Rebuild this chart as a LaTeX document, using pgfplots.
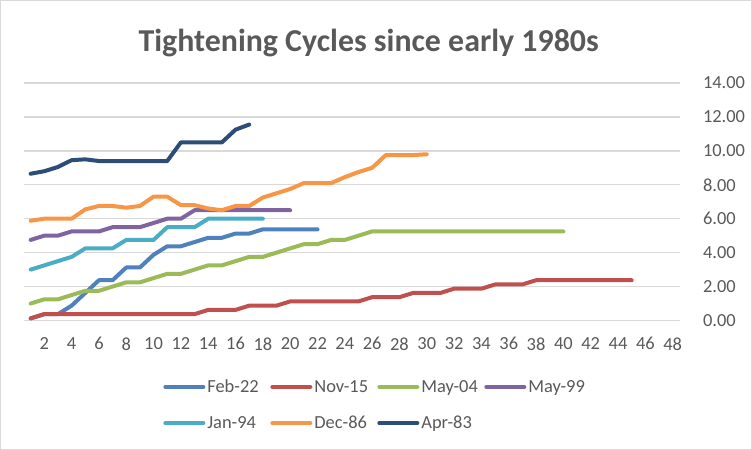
\documentclass[border=0pt]{standalone}
\usepackage{fontspec}
\setmainfont{Carlito}
\usepackage{pgfplots}
\pgfplotsset{compat=1.18}
\definecolor{cfeb}{HTML}{4F81BD}
\definecolor{cnov}{HTML}{C0504D}
\definecolor{cmayf}{HTML}{9BBB59}
\definecolor{cmayn}{HTML}{8064A2}
\definecolor{cjan}{HTML}{4BACC6}
\definecolor{cdec}{HTML}{F79646}
\definecolor{capr}{HTML}{2C4D75}
\definecolor{gridgray}{HTML}{D9D9D9}
\definecolor{txtgray}{HTML}{595959}
\begin{document}
\begin{tikzpicture}
\path[use as bounding box] (-23.8bp,-129.5bp) rectangle (728.2bp,320.5bp);
\draw[gridgray, line width=1bp] (-23.3bp,-129bp) rectangle (727.7bp,320bp);
\begin{axis}[
    at={(0,0)}, anchor=south west,
    scale only axis,
    width=655.7bp, height=237.5bp,
    xmin=0.5, xmax=48.5,
    ymin=0, ymax=14,
    xtick={2,4,...,48},
    ytick={0,2,...,14},
    axis line style={draw=none},
    major tick length=0pt,
    ymajorgrids,
    grid style={gridgray, line width=1.3bp},
    yticklabel pos=right,
    yticklabel style={anchor=west, xshift=20bp,
        /pgf/number format/.cd, fixed, fixed zerofill, precision=2},
    xticklabel style={yshift=-13.5bp},
    ticklabel style={font=\fontsize{18.5}{21}\selectfont, text=txtgray},
    /pgf/number format/assume math mode=true,
    title={Tightening Cycles since early 1980s},
    title style={at={(0.526,1.143)}, anchor=center,
        font=\fontsize{32}{36}\selectfont\bfseries, text=txtgray},
    clip=false,
    every axis plot/.append style={line width=4bp, line cap=round, line join=round},
    legend columns=4,
    legend style={draw=none, fill=none, at={(0.208,-0.232)}, anchor=north west,
        font=\fontsize{18.5}{21}\selectfont, text=txtgray,
        /tikz/every even column/.append style={column sep=8bp},
        row sep=18bp, cells={anchor=west}},
    legend image code/.code={\draw[#1] (0bp,0bp) -- (38bp,0bp);},
]
% Feb-22
\addplot[cfeb] coordinates {
    (1,0.125) (2,0.375) (3,0.375) (4,0.875) (5,1.625) (6,2.375) (7,2.375)
    (8,3.125) (9,3.125) (10,3.875) (11,4.375) (12,4.375) (13,4.625) (14,4.875)
    (15,4.875) (16,5.125) (17,5.125) (18,5.375) (19,5.375) (20,5.375) (21,5.375)
    (22,5.375)
};
\addlegendentry{\makebox[53bp][l]{Feb-22}}
% Nov-15
\addplot[cnov] coordinates {
    (1,0.125) (2,0.375) (3,0.375) (4,0.375) (5,0.375) (6,0.375) (7,0.375)
    (8,0.375) (9,0.375) (10,0.375) (11,0.375) (12,0.375) (13,0.375) (14,0.625)
    (15,0.625) (16,0.625) (17,0.875) (18,0.875) (19,0.875) (20,1.125) (21,1.125)
    (22,1.125) (23,1.125) (24,1.125) (25,1.125) (26,1.375) (27,1.375) (28,1.375)
    (29,1.625) (30,1.625) (31,1.625) (32,1.875) (33,1.875) (34,1.875) (35,2.125)
    (36,2.125) (37,2.125) (38,2.375) (39,2.375) (40,2.375) (41,2.375) (42,2.375)
    (43,2.375) (44,2.375) (45,2.375)
};
\addlegendentry{\makebox[53bp][l]{Nov-15}}
% May-04
\addplot[cmayf] coordinates {
    (1,1.0) (2,1.25) (3,1.25) (4,1.5) (5,1.75) (6,1.75) (7,2.0) (8,2.25)
    (9,2.25) (10,2.5) (11,2.75) (12,2.75) (13,3.0) (14,3.25) (15,3.25) (16,3.5)
    (17,3.75) (18,3.75) (19,4.0) (20,4.25) (21,4.5) (22,4.5) (23,4.75) (24,4.75)
    (25,5.0) (26,5.25) (27,5.25) (28,5.25) (29,5.25) (30,5.25) (31,5.25)
    (32,5.25) (33,5.25) (34,5.25) (35,5.25) (36,5.25) (37,5.25) (38,5.25)
    (39,5.25) (40,5.25)
};
\addlegendentry{\makebox[53bp][l]{May-04}}
% May-99
\addplot[cmayn] coordinates {
    (1,4.75) (2,5.0) (3,5.0) (4,5.25) (5,5.25) (6,5.25) (7,5.5) (8,5.5)
    (9,5.5) (10,5.75) (11,6.0) (12,6.0) (13,6.5) (14,6.5) (15,6.5) (16,6.5)
    (17,6.5) (18,6.5) (19,6.5) (20,6.5)
};
\addlegendentry{\makebox[53bp][l]{May-99}}
% Jan-94
\addplot[cjan] coordinates {
    (1,3.0) (2,3.25) (3,3.5) (4,3.75) (5,4.25) (6,4.25) (7,4.25) (8,4.75)
    (9,4.75) (10,4.75) (11,5.5) (12,5.5) (13,5.5) (14,6.0) (15,6.0) (16,6.0)
    (17,6.0) (18,6.0)
};
\addlegendentry{\makebox[53bp][l]{Jan-94}}
% Dec-86
\addplot[cdec] coordinates {
    (1,5.88) (2,6.0) (3,6.0) (4,6.0) (5,6.55) (6,6.75) (7,6.75) (8,6.65)
    (9,6.75) (10,7.3) (11,7.3) (12,6.8) (13,6.8) (14,6.6) (15,6.5) (16,6.75)
    (17,6.75) (18,7.25) (19,7.5) (20,7.75) (21,8.1) (22,8.1) (23,8.1) (24,8.45)
    (25,8.75) (26,9.0) (27,9.75) (28,9.75) (29,9.75) (30,9.8)
};
\addlegendentry{\makebox[53bp][l]{Dec-86}}
% Apr-83
\addplot[capr] coordinates {
    (1,8.65) (2,8.8) (3,9.05) (4,9.45) (5,9.5) (6,9.4) (7,9.4) (8,9.4)
    (9,9.4) (10,9.4) (11,9.4) (12,10.5) (13,10.5) (14,10.5) (15,10.5)
    (16,11.25) (17,11.55)
};
\addlegendentry{\makebox[53bp][l]{Apr-83}}
\end{axis}
\end{tikzpicture}
\end{document}
